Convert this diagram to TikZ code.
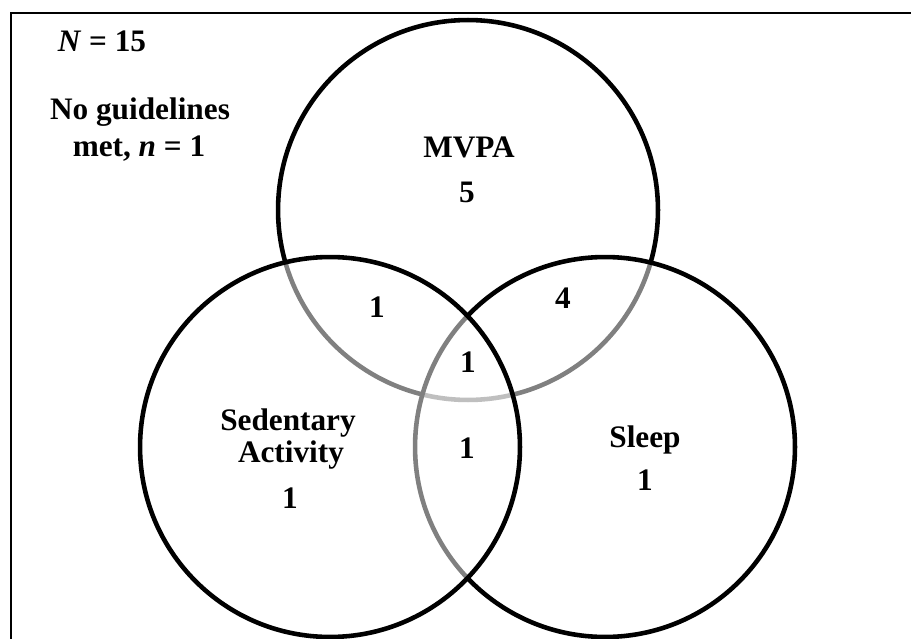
\documentclass[tikz,border=0pt]{standalone}
\usepackage{fontspec}
\setmainfont{Liberation Serif}
\usepackage{tikz}
\usetikzlibrary{positioning}

\begin{document}
\begin{tikzpicture}[
  x=0.02cm, y=-0.02cm,
  ring/.style={circle, draw, line width=2.6pt, fill=white, fill opacity=0.5, minimum size=7.6cm, inner sep=0pt},
  lbl/.style={font=\bfseries\fontsize{17.8}{18}\selectfont, anchor=base, inner sep=0pt}
]
\useasboundingbox (0,0) rectangle (911,638);
\clip (0,0) rectangle (911,638);
\draw[line width=1.6pt] (11,13) rectangle (1000,700);

% circles: order sets which arcs turn grey
\node[ring] (mvpa) at (468,210) {};
\node[ring] (slp) at (605,447) {};
\node[ring] (sed) at (330,447) {};

\node[lbl] (ntot) at (102,52) {\textit{N} = 15};
\node[lbl] (none) at (140,120) {No guidelines};
\node[lbl] (nonen) at (139,157) {met, \textit{n} = 1};

\node[lbl] (mvpaname) at (469,158) {MVPA};
\node[lbl] (mvpan) at (467,203) {5};

\node[lbl] (sedname) at (288,430) {Sedentary};
\node[lbl] (sedname2) at (291,462) {Activity};
\node[lbl] (sedn) at (290,508) {1};

\node[lbl] (slpname) at (645,447) {Sleep};
\node[lbl] (slpn) at (645,490) {1};

\node[lbl] (ms) at (377,317) {1};
\node[lbl] (mp) at (563,308) {4};
\node[lbl] (all) at (468,372) {1};
\node[lbl] (sp) at (467,458) {1};
\end{tikzpicture}
\end{document}
